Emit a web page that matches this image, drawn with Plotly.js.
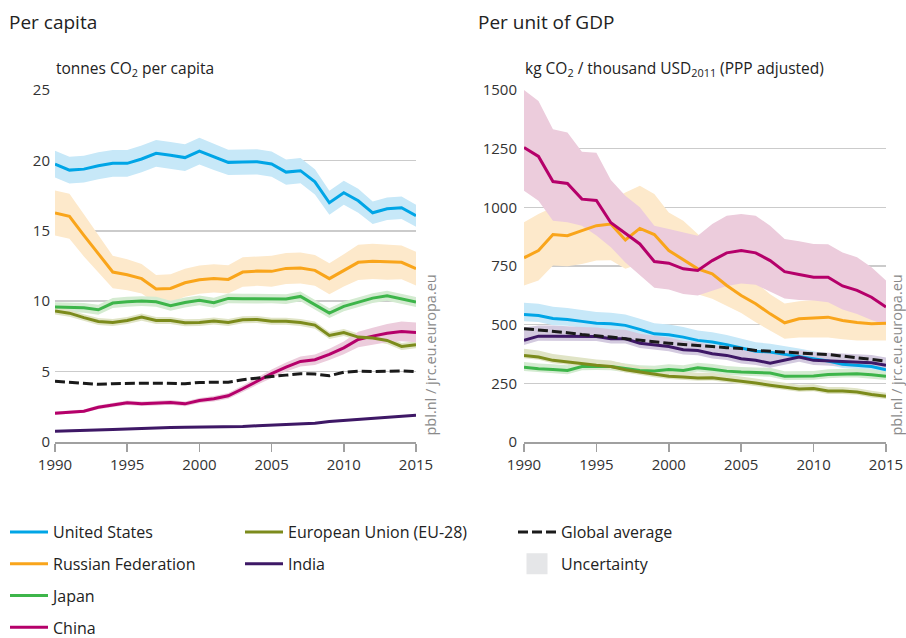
<!DOCTYPE html>
<html><head><meta charset="utf-8">
<script src="https://cdn.plot.ly/plotly-3.0.1.min.js"></script>
<style>html,body{margin:0;padding:0;background:#fff}#chart{width:906px;height:638px}</style>
</head><body><div id="chart"></div>
<script>
// ---- data ----
const years = [1990,1991,1992,1993,1994,1995,1996,1997,1998,1999,2000,2001,2002,2003,2004,2005,2006,2007,2008,2009,2010,2011,2012,2013,2014,2015];
const xTicks = [1990,1995,2000,2005,2010,2015];
const yTicksCap = [0,5,10,15,20,25];
const yTicksGdp = [0,250,500,750,1000,1250,1500];

// Per capita (tonnes CO2 per capita)
const capUS     = [19.74,19.31,19.38,19.62,19.79,19.79,20.1,20.5,20.36,20.2,20.66,20.26,19.86,19.88,19.9,19.74,19.17,19.27,18.48,16.99,17.7,17.13,16.28,16.56,16.64,16.07];
const capRussia = [16.26,16.03,14.68,13.37,12.07,11.88,11.6,10.86,10.91,11.31,11.53,11.62,11.55,12.07,12.14,12.12,12.33,12.35,12.19,11.6,12.19,12.76,12.83,12.78,12.76,12.31];
const capJapan  = [9.58,9.58,9.53,9.39,9.87,9.96,10.01,9.96,9.68,9.91,10.06,9.89,10.2,10.18,10.18,10.2,10.15,10.34,9.77,9.15,9.63,9.94,10.22,10.39,10.18,9.94];
const capChina  = [2.05,2.12,2.19,2.47,2.62,2.79,2.71,2.76,2.81,2.71,2.95,3.07,3.28,3.78,4.32,4.85,5.32,5.72,5.84,6.22,6.69,7.28,7.52,7.73,7.85,7.78];
const capEU     = [9.3,9.15,8.83,8.56,8.49,8.63,8.87,8.63,8.63,8.47,8.49,8.6,8.49,8.68,8.7,8.58,8.58,8.49,8.3,7.57,7.78,7.45,7.38,7.21,6.79,6.91];
const capIndia  = [0.77,0.79,0.82,0.84,0.89,0.93,0.98,1.0,1.03,1.05,1.05,1.05,1.07,1.1,1.15,1.19,1.24,1.29,1.34,1.46,1.53,1.6,1.67,1.74,1.81,1.9];
const capGlobal = [4.32,4.23,4.14,4.1,4.14,4.18,4.18,4.18,4.16,4.14,4.23,4.23,4.25,4.42,4.56,4.66,4.75,4.85,4.83,4.7,4.96,5.03,5.01,5.03,5.05,4.99];
// per capita uncertainty half-widths
const capUSUnc     = [0.95,0.95,0.95,0.95,0.95,0.95,0.95,0.95,0.95,0.95,0.95,0.95,0.9,0.9,0.9,0.9,0.9,0.9,0.9,0.85,0.85,0.85,0.8,0.8,0.8,0.78];
const capRussiaUnc = [1.6,1.6,1.5,1.3,1.15,1.1,1.05,1.0,1.0,1.0,1.0,1.0,1.0,1.05,1.05,1.1,1.1,1.1,1.1,1.1,1.15,1.25,1.25,1.25,1.2,1.2];
const capJapanUnc  = [0.35,0.35,0.35,0.35,0.35,0.35,0.35,0.35,0.35,0.35,0.35,0.35,0.35,0.35,0.35,0.35,0.35,0.35,0.35,0.35,0.35,0.35,0.35,0.35,0.35,0.35];
const capChinaUnc  = [0.12,0.12,0.12,0.14,0.15,0.16,0.16,0.17,0.17,0.17,0.18,0.19,0.2,0.23,0.26,0.3,0.32,0.35,0.37,0.4,0.45,0.55,0.6,0.65,0.7,0.7];
const capEUUnc     = [0.25,0.25,0.25,0.25,0.25,0.25,0.25,0.25,0.25,0.25,0.25,0.25,0.25,0.25,0.25,0.25,0.25,0.25,0.25,0.25,0.25,0.25,0.25,0.25,0.25,0.25];
const capIndiaUnc  = [0.06,0.06,0.06,0.06,0.06,0.06,0.06,0.06,0.06,0.06,0.06,0.06,0.06,0.06,0.06,0.06,0.06,0.06,0.06,0.06,0.06,0.06,0.06,0.06,0.06,0.06];

// Per unit of GDP (kg CO2 / thousand USD2011)
const gdpUS     = [543,539,526,522,514,506,504,497,480,461,457,447,433,426,415,400,387,383,373,365,355,345,331,328,322,308];
const gdpUSHi   = [593,589,576,571,562,554,551,543,525,506,501,490,475,468,456,440,425,419,407,398,387,375,359,355,348,333];
const gdpUSLo   = [515,511,498,495,487,480,478,472,455,437,433,424,411,404,394,380,367,364,355,347,338,328,315,312,307,293];
const gdpRussia   = [785,816,884,879,901,922,929,861,910,884,816,776,738,717,667,624,589,546,508,525,529,532,518,509,504,506];
const gdpRussiaHi = [936,972,1000,1005,1010,1015,1028,1063,1092,1057,978,943,886,820,770,720,680,630,590,600,605,610,595,585,578,580];
const gdpRussiaLo = [667,688,752,749,759,773,775,738,760,730,680,650,630,610,580,550,510,475,440,445,445,445,438,433,432,433];
const gdpJapan   = [319,312,309,305,322,323,322,313,305,303,309,305,316,310,302,298,296,294,280,280,281,288,291,291,287,280];
const gdpJapanHi = [341,334,331,327,344,345,344,335,327,325,331,327,338,332,324,320,318,316,302,302,303,310,313,313,309,302];
const gdpJapanLo = [303,296,293,289,306,307,306,297,289,287,293,289,300,294,286,282,280,278,264,264,265,272,275,275,271,264];
const gdpChina   = [1255,1217,1110,1102,1035,1029,934,887,844,769,762,738,731,773,806,816,806,773,726,714,702,702,665,646,617,575];
const gdpChinaHi = [1500,1453,1333,1319,1237,1233,1117,1049,1000,922,908,893,879,929,964,972,964,922,865,855,844,843,808,787,745,688];
const gdpChinaLo = [1071,1028,943,936,922,880,830,765,710,657,650,631,624,645,665,675,670,640,612,605,603,595,565,545,520,497];
const gdpEU   = [369,362,348,341,331,327,322,308,298,288,280,277,273,274,267,260,251,242,234,226,228,217,217,213,202,195];
const gdpEUHi = [397,390,375,367,357,352,347,332,322,311,303,299,295,295,288,280,271,261,253,244,246,234,234,229,218,210];
const gdpEULo = [357,350,336,329,319,315,310,296,286,276,268,265,261,262,255,248,239,230,222,214,216,205,205,201,190,183];
const gdpIndia   = [433,451,451,450,450,450,440,440,421,415,407,393,390,376,369,355,348,336,348,362,348,345,345,341,338,327];
const gdpIndiaHi = [488,496,496,492,490,488,480,478,461,453,445,431,425,412,407,395,388,384,390,392,383,380,378,374,371,360];
const gdpIndiaLo = [413,431,431,430,430,430,420,420,401,395,387,373,370,356,349,335,328,316,328,342,328,325,325,321,318,307];
const gdpGlobal  = [483,478,472,466,458,454,447,440,433,426,421,416,410,407,402,398,390,386,381,379,376,373,366,362,355,345];

const names = {us:'United States', ru:'Russian Federation', jp:'Japan', cn:'China', eu:'European Union (EU-28)', in:'India', gl:'Global average', unc:'Uncertainty'};
const col = {us:'#00a5e6', ru:'#f9a51b', jp:'#3db54a', cn:'#b5006a', eu:'#7c8b1c', in:'#3e1866', gl:'#1a1a1a'};
const band = {us:'#c7e8f8', ru:'#fde9cb', jp:'#d4ebd1', cn:'#ecccdc', eu:'#e0e4c6', in:'#d3cadf'};

// ---- build ----
const traces = [];
function bandTrace(lo, hi, color, xa, ya){
  traces.push({x: years.concat(years.slice().reverse()), y: hi.concat(lo.slice().reverse()),
    type:'scatter', mode:'lines', fill:'toself', fillcolor:color, line:{width:0},
    hoverinfo:'skip', showlegend:false, xaxis:xa, yaxis:ya});
}
function symBand(c, hw, color, xa, ya){
  bandTrace(c.map((v,i)=>v-hw[i]), c.map((v,i)=>v+hw[i]), color, xa, ya);
}
function lineTrace(y, key, xa, ya, leg, legName, dash){
  traces.push({x: years, y: y, type:'scatter', mode:'lines', name: names[key],
    line:{color: col[key], width:3, dash: dash || 'solid'},
    hoverinfo:'skip', xaxis:xa, yaxis:ya, showlegend: !!leg, legend: legName || 'legend', legendgroup:key});
}

// panel 1 bands
symBand(capUS, capUSUnc, band.us, 'x', 'y');
symBand(capRussia, capRussiaUnc, band.ru, 'x', 'y');
symBand(capJapan, capJapanUnc, band.jp, 'x', 'y');
symBand(capEU, capEUUnc, band.eu, 'x', 'y');
symBand(capIndia, capIndiaUnc, band.in, 'x', 'y');
symBand(capChina, capChinaUnc, band.cn, 'x', 'y');
// panel 2 bands
bandTrace(gdpUSLo, gdpUSHi, band.us, 'x2', 'y2');
bandTrace(gdpRussiaLo, gdpRussiaHi, band.ru, 'x2', 'y2');
bandTrace(gdpJapanLo, gdpJapanHi, band.jp, 'x2', 'y2');
bandTrace(gdpEULo, gdpEUHi, band.eu, 'x2', 'y2');
bandTrace(gdpIndiaLo, gdpIndiaHi, band.in, 'x2', 'y2');
bandTrace(gdpChinaLo, gdpChinaHi, band.cn, 'x2', 'y2');

// panel 1 lines (these carry the legend)
lineTrace(capUS, 'us', 'x', 'y', true, 'legend');
lineTrace(capRussia, 'ru', 'x', 'y', true, 'legend');
lineTrace(capJapan, 'jp', 'x', 'y', true, 'legend');
lineTrace(capChina, 'cn', 'x', 'y', true, 'legend');
lineTrace(capEU, 'eu', 'x', 'y', true, 'legend2');
lineTrace(capIndia, 'in', 'x', 'y', true, 'legend2');
lineTrace(capGlobal, 'gl', 'x', 'y', true, 'legend3', '10px,4px');
// uncertainty legend swatch
traces.push({x:[null], y:[null], type:'scatter', mode:'markers', name:names.unc,
  marker:{symbol:'square', size:16, color:'#e5e6e8', line:{color:'#e5e6e8', width:5}}, xaxis:'x', yaxis:'y',
  showlegend:true, legend:'legend3', legendgroup:'unc', hoverinfo:'skip'});
// panel 2 lines
lineTrace(gdpUS, 'us', 'x2', 'y2');
lineTrace(gdpRussia, 'ru', 'x2', 'y2');
lineTrace(gdpJapan, 'jp', 'x2', 'y2');
lineTrace(gdpEU, 'eu', 'x2', 'y2');
lineTrace(gdpIndia, 'in', 'x2', 'y2');
lineTrace(gdpChina, 'cn', 'x2', 'y2');
lineTrace(gdpGlobal, 'gl', 'x2', 'y2', false, 'legend', '10px,4px');

const W = 906, H = 638;
const px = v => v / W, py = v => (H - v) / H;
const tickFont = {family:'Open Sans, sans-serif', size:15, color:'#333'};
const xAxisBase = {range:[1990,2015], tickvals:xTicks, ticks:'outside', ticklen:8, tickwidth:1.5,
  tickcolor:'#a0a0a0', showline:true, linecolor:'#a0a0a0', linewidth:1.5, showgrid:false, zeroline:false,
  tickfont:tickFont, fixedrange:true};
const yAxisBase = {showgrid:true, gridcolor:'#cbcbcb', gridwidth:1.5, zeroline:false, showline:false,
  ticks:'', tickfont:tickFont, fixedrange:true};
const legFont = {family:'Open Sans, sans-serif', size:16, color:'#222'};
const legBase = {orientation:'v', xanchor:'left', yanchor:'top', font:legFont, bgcolor:'rgba(0,0,0,0)',
  tracegroupgap:8, itemwidth:38, traceorder:'grouped'};

const layout = {
  width:W, height:H, margin:{l:0,r:0,t:0,b:0,autoexpand:false}, paper_bgcolor:'#fff', plot_bgcolor:'#fff',
  xaxis: Object.assign({}, xAxisBase, {domain:[px(55), px(416)], anchor:'y'}),
  yaxis: Object.assign({}, yAxisBase, {domain:[py(442), py(90)], range:[0,25], tickvals:yTicksCap, anchor:'x', ticklabelstandoff:4}),
  xaxis2: Object.assign({}, xAxisBase, {domain:[px(524), px(886)], anchor:'y2'}),
  yaxis2: Object.assign({}, yAxisBase, {domain:[py(442), py(90)], range:[0,1500], tickvals:yTicksGdp, anchor:'x2', ticklabelstandoff:6}),
  legend: Object.assign({}, legBase, {x:px(5), y:py(515)}),
  legend2: Object.assign({}, legBase, {x:px(240), y:py(515)}),
  legend3: Object.assign({}, legBase, {x:px(513), y:py(515)}),
  showlegend:true,
  annotations:[
    {text:'Per capita', xref:'paper', yref:'paper', x:px(7), y:py(22), xanchor:'left', yanchor:'middle', showarrow:false,
      font:{family:'Open Sans, sans-serif', size:19, color:'#222'}},
    {text:'Per unit of GDP', xref:'paper', yref:'paper', x:px(476), y:py(22), xanchor:'left', yanchor:'middle', showarrow:false,
      font:{family:'Open Sans, sans-serif', size:19, color:'#222'}},
    {text:'tonnes CO<sub>2</sub> per capita', xref:'paper', yref:'paper', x:px(54), y:py(68), xanchor:'left', yanchor:'middle', showarrow:false,
      font:{family:'Open Sans, sans-serif', size:15.5, color:'#222'}},
    {text:'kg CO<sub>2</sub> / thousand USD<sub>2011</sub> (PPP adjusted)', xref:'paper', yref:'paper', x:px(523), y:py(68), xanchor:'left', yanchor:'middle', showarrow:false,
      font:{family:'Open Sans, sans-serif', size:15.5, color:'#222'}},
    {text:'pbl.nl / jrc.eu.europa.eu', xref:'paper', yref:'paper', x:px(430), y:py(438), xanchor:'center', yanchor:'bottom', textangle:-90, showarrow:false,
      font:{family:'Open Sans, sans-serif', size:14.5, color:'#8a8a8a'}},
    {text:'pbl.nl / jrc.eu.europa.eu', xref:'paper', yref:'paper', x:px(896), y:py(438), xanchor:'center', yanchor:'bottom', textangle:-90, showarrow:false,
      font:{family:'Open Sans, sans-serif', size:14.5, color:'#8a8a8a'}}
  ]
};

Plotly.newPlot('chart', traces, layout, {displayModeBar:false, staticPlot:true});
</script></body></html>
